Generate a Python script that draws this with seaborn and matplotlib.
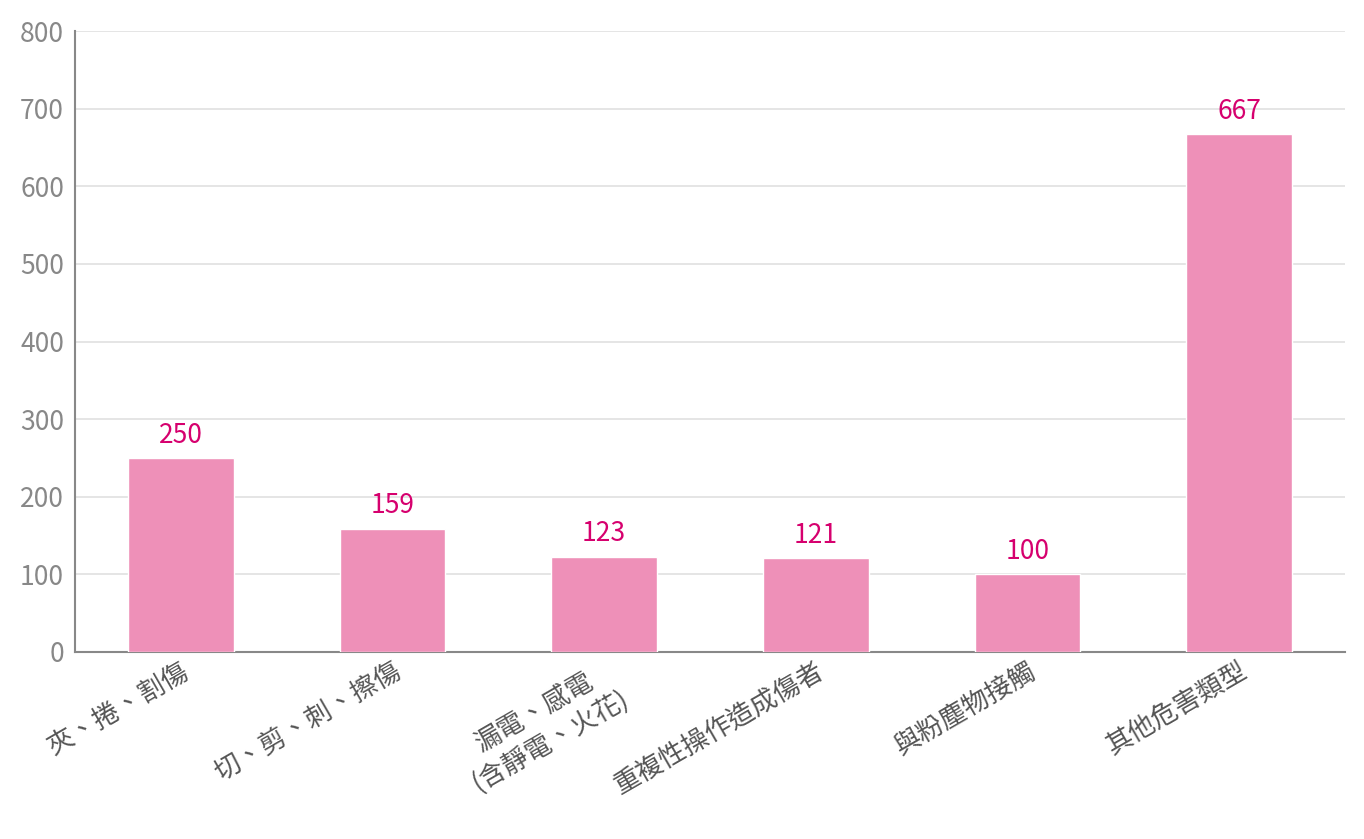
import matplotlib
matplotlib.use("Agg")
import matplotlib.pyplot as plt
import pandas as pd
import seaborn as sns

categories = ["夾、捲、割傷", "切、剪、刺、擦傷", "漏電、感電\n(含靜電、火花)",
              "重複性操作造成傷者", "與粉塵物接觸", "其他危害類型"]
values = [250, 159, 123, 121, 100, 667]

sns.set_theme(style="white")
plt.rcParams["font.family"] = ["Noto Sans CJK TC", "DejaVu Sans"]

df = pd.DataFrame({"category": categories, "value": values})

fig = plt.figure(figsize=(13.64, 8.39), dpi=100)
ax = fig.add_axes([75 / 1364, 1 - 652 / 839, 1270 / 1364, 621 / 839])
sns.barplot(data=df, x="category", y="value", color="#EE90B8", saturation=1,
            width=0.5, ax=ax, zorder=3)

for i, v in enumerate(values):
    ax.text(i, v + 12, str(v), ha="center", va="bottom", color="#D6006E", fontsize=19)

ax.set_ylim(0, 800)
ax.set_yticks(range(0, 801, 100))
ax.set_xlim(-0.5, len(categories) - 0.5)
ax.grid(axis="y", color="#E0E0E0", linewidth=1.2, zorder=0)
ax.set_xlabel("")
ax.set_ylabel("")
for s in ["top", "right"]:
    ax.spines[s].set_visible(False)
for s in ["left", "bottom"]:
    ax.spines[s].set_color("#888888")
    ax.spines[s].set_linewidth(1.5)
ax.tick_params(axis="y", colors="#888888", labelsize=19, length=0, pad=8)
ax.tick_params(axis="x", colors="#555555", labelsize=19, length=0, pad=4)
plt.setp(ax.get_xticklabels(), rotation=30, ha="right", rotation_mode="anchor",
         multialignment="center")

fig.savefig("out.png", dpi=100)
